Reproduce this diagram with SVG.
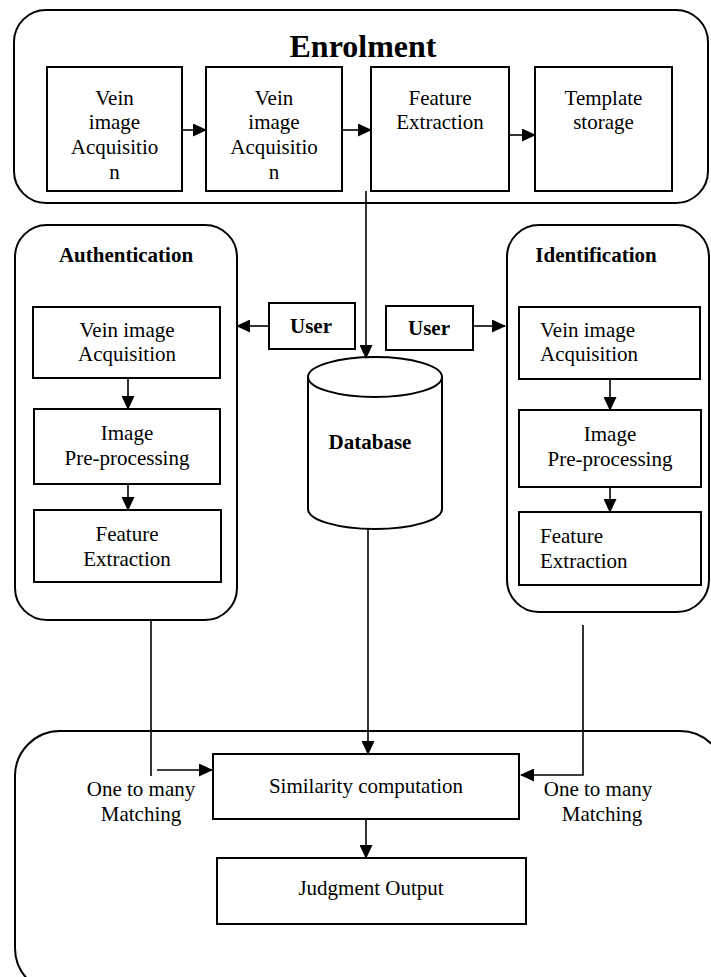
<svg xmlns="http://www.w3.org/2000/svg" width="711" height="977" viewBox="0 0 711 977">
<defs>
<marker id="ah" markerWidth="14" markerHeight="13" refX="13" refY="6.5" orient="auto" markerUnits="userSpaceOnUse">
<path d="M0,0 L14,6.5 L0,13 Z" fill="#000"/>
</marker>
</defs>
<style>
.t{font-family:"Liberation Serif","Times New Roman",serif;font-size:21px;fill:#000;text-anchor:middle}
.b{font-weight:bold}
.box{fill:#fff;stroke:#000;stroke-width:2}
.grp{fill:none;stroke:#000;stroke-width:2}
.ln{fill:none;stroke:#000;stroke-width:1.6}
.ar{fill:none;stroke:#000;stroke-width:1.6;marker-end:url(#ah)}
</style>
<rect width="711" height="977" fill="#fff"/>

<g id="enrolment">
<rect class="grp" x="14" y="10" width="694" height="193" rx="32"/>
<text class="t b" x="363" y="57" style="font-size:32px">Enrolment</text>
</g>
<g id="e1">
<rect class="box" x="47" y="67" width="135" height="124"/>
<text class="t" x="114.5" y="105">Vein</text>
<text class="t" x="114.5" y="129">image</text>
<text class="t" x="114.5" y="154">Acquisitio</text>
<text class="t" x="114.5" y="179">n</text>
</g>
<g id="e2">
<rect class="box" x="206" y="67" width="136" height="124"/>
<text class="t" x="274" y="105">Vein</text>
<text class="t" x="274" y="129">image</text>
<text class="t" x="274" y="154">Acquisitio</text>
<text class="t" x="274" y="179">n</text>
</g>
<g id="e3">
<rect class="box" x="371" y="67" width="138" height="124"/>
<text class="t" x="440" y="105">Feature</text>
<text class="t" x="440" y="129">Extraction</text>
</g>
<g id="e4">
<rect class="box" x="535" y="67" width="137" height="124"/>
<text class="t" x="603.5" y="105">Template</text>
<text class="t" x="603.5" y="129">storage</text>
</g>

<g id="authentication">
<rect class="grp" x="15" y="225" width="222" height="395" rx="32"/>
<text class="t b" x="126" y="262">Authentication</text>
</g>
<g id="a1">
<rect class="box" x="33" y="307" width="187" height="71"/>
<text class="t" x="127" y="337">Vein image</text>
<text class="t" x="127" y="361">Acquisition</text>
</g>
<g id="a2">
<rect class="box" x="34" y="409" width="186" height="75"/>
<text class="t" x="127" y="440">Image</text>
<text class="t" x="127" y="465">Pre-processing</text>
</g>
<g id="a3">
<rect class="box" x="34" y="510" width="187" height="72"/>
<text class="t" x="127" y="541">Feature</text>
<text class="t" x="127" y="566">Extraction</text>
</g>

<g id="userL">
<rect class="box" x="269" y="303" width="86" height="46"/>
<text class="t b" x="311" y="333">User</text>
</g>
<g id="userR">
<rect class="box" x="386" y="306" width="87" height="44"/>
<text class="t b" x="429" y="335">User</text>
</g>

<g id="database">
<path class="box" d="M308,377 L308,509 A67,20 0 0 0 442,509 L442,377 A67,20 0 0 0 308,377 A67,20 0 0 0 442,377"/>
<text class="t b" x="370" y="449">Database</text>
</g>

<g id="identification">
<rect class="grp" x="507" y="225" width="202" height="387" rx="32"/>
<text class="t b" x="596" y="262">Identification</text>
</g>
<g id="i1">
<rect class="box" x="519" y="307" width="181" height="72"/>
<text class="t" x="540" y="337" style="text-anchor:start">Vein image</text>
<text class="t" x="540" y="361" style="text-anchor:start">Acquisition</text>
</g>
<g id="i2">
<rect class="box" x="519" y="410" width="182" height="77"/>
<text class="t" x="610" y="441">Image</text>
<text class="t" x="610" y="466">Pre-processing</text>
</g>
<g id="i3">
<rect class="box" x="519" y="512" width="182" height="73"/>
<text class="t" x="540" y="543" style="text-anchor:start">Feature</text>
<text class="t" x="540" y="568" style="text-anchor:start">Extraction</text>
</g>

<g id="matching">
<rect class="grp" x="15" y="731" width="710" height="262" rx="45"/>
</g>
<g id="similarity">
<rect class="box" x="213" y="754" width="306" height="65"/>
<text class="t" x="366" y="793">Similarity computation</text>
</g>
<g id="judgment">
<rect class="box" x="217" y="858" width="309" height="66"/>
<text class="t" x="371" y="895">Judgment Output</text>
</g>
<g id="labels">
<text class="t" x="141" y="796">One to many</text>
<text class="t" x="141" y="821">Matching</text>
<text class="t" x="598" y="796">One to many</text>
<text class="t" x="602" y="821">Matching</text>
</g>

<g id="connectors">
<line class="ar" x1="182" y1="130" x2="206" y2="130"/>
<line class="ar" x1="342" y1="130" x2="371" y2="130"/>
<line class="ar" x1="509" y1="135" x2="535" y2="135"/>
<line class="ar" x1="366" y1="191" x2="366" y2="358"/>
<line class="ar" x1="269" y1="326" x2="237" y2="326"/>
<line class="ar" x1="473" y1="326" x2="505" y2="326"/>
<line class="ar" x1="128" y1="378" x2="128" y2="409"/>
<line class="ar" x1="128" y1="484" x2="128" y2="510"/>
<line class="ar" x1="610" y1="379" x2="610" y2="410"/>
<line class="ar" x1="610" y1="487" x2="610" y2="512"/>
<line class="ln" x1="151" y1="620" x2="151" y2="776"/>
<line class="ar" x1="157" y1="770" x2="212" y2="770"/>
<line class="ar" x1="368" y1="529" x2="368" y2="754"/>
<polyline class="ar" points="583,625 583,775 521,775"/>
<line class="ar" x1="366" y1="819" x2="366" y2="858"/>
</g>
</svg>
